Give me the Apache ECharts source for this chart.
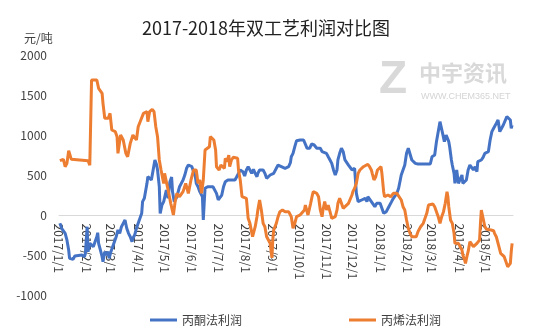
<!DOCTYPE html>
<html><head><meta charset="utf-8">
<script src="https://cdn.jsdelivr.net/npm/echarts@6/dist/echarts.min.js"></script>
<style>html,body{margin:0;padding:0;background:#fff}#c{width:554px;height:332px}</style>
</head><body><div id="c"></div>
<script>
const titleText = '2017-2018年双工艺利润对比图';
const unitText = '元/吨';
const seriesNames = ['丙酮法利润', '丙烯法利润'];
const tickLabels = ['2017/1/1','2017/2/1','2017/3/1','2017/4/1','2017/5/1','2017/6/1','2017/7/1','2017/8/1','2017/9/1','2017/10/1','2017/11/1','2017/12/1','2018/1/1','2018/2/1','2018/3/1','2018/4/1','2018/5/1'];
const yTicks = [-1000, -500, 0, 500, 1000, 1500, 2000];
const axisEnd = '2018/6/1';

// days since 2017/1/1
const acetoneDay = [1,3,5,7,9,11,12,16,18,26,29,30,32,33,35,37,39,41,43,44,45,47,49,50,52,54,56,57,59,61,63,65,67,69,71,73,75,77,79,81,83,84,86,88,90,92,94,95,97,99,100,101,103,105,107,109,111,112,114,115,117,119,120,122,124,126,128,129,131,133,134,137,139,141,143,145,147,149,151,153,155,156,158,160,162,163,164,165,166,169,175,177,179,181,183,185,187,189,191,192,194,196,198,200,202,204,206,208,209,211,213,215,217,219,221,223,225,226,228,230,232,234,236,238,240,244,245,247,249,251,257,259,261,263,264,266,268,270,274,278,280,282,285,287,290,293,295,297,299,301,304,306,308,310,312,314,316,317,319,321,323,325,327,329,331,333,334,336,338,340,344,346,348,350,351,353,355,357,359,361,363,365,367,369,370,372,374,376,378,380,382,384,386,388,389,391,393,395,397,399,401,403,405,408,422,424,427,429,431,433,435,436,438,440,441,443,444,446,447,449,450,452,454,456,458,459,461,463,465,467,469,471,473,475,476,478,480,482,484,488,490,492,494,495,497,499,501,503,505,507,509,511,513,514,515];
const acetoneProfit = [-98,-160,-181,-223,-306,-431,-535,-548,-506,-494,-515,-473,-140,-452,-348,-327,-390,-369,-265,-215,-348,-431,-515,-577,-452,-494,-452,-535,-452,-390,-327,-265,-181,-223,-140,-98,-56,-160,-223,-265,-327,-285,-244,-160,-98,-35,27,173,215,235,402,485,465,444,569,694,631,569,360,27,131,173,152,319,215,420,480,300,173,152,235,360,402,444,506,590,631,644,610,548,485,402,360,298,277,235,-56,152,340,360,360,340,277,194,173,256,360,423,402,444,465,444,465,444,485,527,569,590,548,494,569,610,590,527,577,527,485,527,569,590,569,527,465,465,506,527,548,590,631,610,590,610,610,660,735,777,860,935,944,944,923,840,840,894,881,840,819,840,798,798,777,735,694,652,569,506,569,694,777,840,798,694,673,631,610,569,548,590,277,173,194,173,215,173,235,235,173,173,110,152,131,152,90,27,6,48,90,110,173,215,235,277,340,450,506,569,631,777,840,819,694,715,652,644,644,735,756,923,1048,1173,1194,1027,923,1006,1027,923,860,694,631,527,402,569,402,402,506,402,402,444,569,631,631,569,610,548,673,652,694,727,777,798,944,1048,1090,1110,1152,1194,1048,1048,1131,1152,1235,1256,1194,1090,1131];

const propyleneDay = [1,5,7,9,11,14,16,33,35,37,43,45,49,50,52,56,58,60,64,66,67,70,73,76,78,81,84,88,90,93,96,100,101,103,106,108,110,112,114,116,119,120,124,127,130,132,134,137,141,144,147,150,153,156,158,160,162,164,166,168,171,172,174,176,178,179,182,184,186,188,189,191,193,194,196,198,200,203,204,206,208,209,213,215,217,220,223,225,226,228,230,232,234,236,238,240,242,243,244,247,249,251,254,257,261,264,266,268,270,274,276,279,280,283,284,286,288,289,293,295,297,299,300,302,304,306,308,310,312,314,316,317,319,321,323,325,329,331,333,334,336,338,340,342,344,346,348,351,353,355,356,358,360,362,364,366,367,369,370,374,377,380,384,386,389,391,393,395,397,399,401,403,406,408,411,414,416,418,420,422,425,427,429,431,433,435,437,439,441,442,443,445,447,449,450,452,454,456,458,459,461,462,464,465,467,469,471,473,475,478,479,480,482,484,486,491,494,495,497,499,500,502,504,506,508,510,511,513,514,515];
const propyleneProfit = [685,702,610,652,810,702,685,685,630,1694,1694,1590,1527,1402,1215,1215,1277,1069,1048,985,777,1006,944,777,735,902,1006,944,1110,1194,1277,1298,1173,1298,1327,1298,1110,985,694,569,402,527,319,152,6,173,277,235,298,402,277,444,569,569,402,444,277,444,819,840,860,985,1006,944,819,610,569,631,652,590,715,673,756,610,694,727,715,715,569,444,235,256,215,-35,-98,-265,-140,-15,69,194,69,-98,-140,-265,-306,-348,-530,-306,-181,-98,-15,48,69,48,48,-15,-160,-98,-15,6,6,69,131,6,27,152,256,298,277,235,69,-15,69,173,69,131,48,-35,-56,-15,69,152,215,152,90,110,152,173,256,298,340,402,527,569,590,610,631,640,610,569,527,444,485,569,590,610,527,298,235,256,235,277,277,298,194,110,69,-56,-160,-223,-265,-285,-265,-202,-140,-98,-35,27,131,152,144,110,48,-15,-98,-15,48,152,298,235,110,-56,-98,-223,-348,-369,-348,-390,-431,-494,-556,-598,-494,-452,-327,-348,-390,-390,-348,-306,-98,69,-35,-140,-173,-181,-190,-223,-265,-285,-390,-473,-494,-515,-535,-640,-660,-598,-452,-348];

const dayOf = s => { const p = s.split('/').map(Number); return (Date.UTC(p[0], p[1]-1, p[2]) - Date.UTC(2017,0,1)) / 864e5; };
const tickDays = tickLabels.map(dayOf);
const zip = (a, b) => a.map((d, i) => [d, b[i]]);

const gridTop = 55.5, gridBottomPx = 295.5;
const zeroOffset = (gridBottomPx - gridTop) * (yTicks[yTicks.length-1] - 0) / (yTicks[yTicks.length-1] - yTicks[0]);

const font = 'Microsoft YaHei, "Noto Sans CJK SC", sans-serif';
const chart = echarts.init(document.getElementById('c'), null, {renderer: 'canvas'});
chart.setOption({
  animation: false,
  backgroundColor: '#fff',
  textStyle: {fontFamily: font},
  title: [
    {text: titleText, left: 261, textAlign: 'center', top: 14,
     textStyle: {fontSize: 18, fontWeight: 'normal', color: '#222', fontFamily: font}},
    {text: unitText, left: 19, top: 27,
     textStyle: {fontSize: 12, fontWeight: 'normal', color: '#404040', fontFamily: font}}
  ],
  graphic: [
    {type: 'text', left: 379, top: 57, silent: true,
     style: {text: 'Z', fill: '#d9d9d9', font: 'bold 46px "Liberation Sans", sans-serif'}},
    {type: 'text', left: 419, top: 62, silent: true,
     style: {text: '中宇资讯', fill: '#d9d9d9', font: 'bold 22px "Noto Sans CJK SC", sans-serif'}},
    {type: 'text', left: 421, top: 92, silent: true,
     style: {text: 'WWW.CHEM365.NET', fill: '#d4d4d4', font: '9px "Liberation Sans", sans-serif'}}
  ],
  legend: {
    left: 145, top: 309, itemGap: 107, itemWidth: 27, itemHeight: 3, icon: 'rect',
    textStyle: {fontSize: 12, color: '#404040', fontFamily: font},
    data: seriesNames
  },
  grid: {left: 59, right: 41, top: gridTop, bottom: 332 - gridBottomPx, containLabel: false, outerBoundsMode: 'none'},
  xAxis: {
    type: 'value', min: 0, max: dayOf(axisEnd), position: 'bottom',
    offset: -(gridBottomPx - gridTop - zeroOffset),
    axisLine: {show: true, onZero: false, lineStyle: {color: '#d9d9d9', width: 1}},
    axisTick: {show: false},
    splitLine: {show: false},
    axisLabel: {
      customValues: tickDays, rotate: -90, margin: 8, fontSize: 12, color: '#404040',
      formatter: v => { const i = tickDays.indexOf(Math.round(v)); return i >= 0 ? tickLabels[i] : ''; }
    }
  },
  yAxis: {
    type: 'value', min: yTicks[0], max: yTicks[yTicks.length-1], interval: 500,
    axisLine: {show: false}, axisTick: {show: false}, splitLine: {show: false},
    axisLabel: {fontSize: 12, color: '#404040', margin: 12, formatter: v => String(v)}
  },
  series: [
    {name: seriesNames[0], type: 'line', data: zip(acetoneDay, acetoneProfit), showSymbol: false,
     lineStyle: {color: '#4472C4', width: 3}, itemStyle: {color: '#4472C4'}},
    {name: seriesNames[1], type: 'line', data: zip(propyleneDay, propyleneProfit), showSymbol: false,
     lineStyle: {color: '#ED7D31', width: 3}, itemStyle: {color: '#ED7D31'}}
  ]
});
</script></body></html>
